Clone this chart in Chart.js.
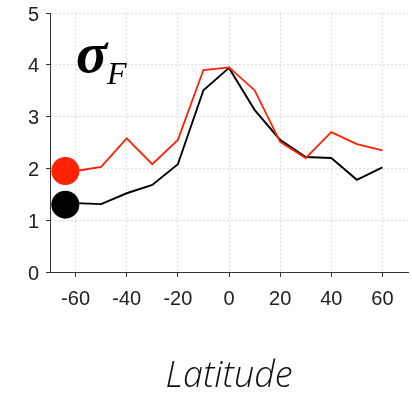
<!DOCTYPE html>
<html>
<head>
<meta charset="utf-8">
<script src="https://cdn.jsdelivr.net/npm/chart.js@4"></script>
<style>
  body { margin: 0; background: #fff; }
  #wrap { width: 412px; height: 396px; position: relative; }
</style>
</head>
<body>
<div id="wrap"><canvas id="myChart"></canvas></div>
<script>
// latitude of each sample
const lats = [-60, -50, -40, -30, -20, -10, 0, 10, 20, 30, 40, 50, 60];
const redVals = [1.95, 2.03, 2.58, 2.08, 2.55, 3.9, 3.95, 3.51, 2.51, 2.2, 2.7, 2.47, 2.35];
const blackVals = [1.33, 1.31, 1.52, 1.68, 2.08, 3.51, 3.94, 3.13, 2.55, 2.22, 2.2, 1.78, 2.02];
// big legend-like dots on the left
const markerLat = -64;
const redMarker = 1.95;
const blackMarker = 1.3;
const xTicks = [-60, -40, -20, 0, 20, 40, 60];
const yTicks = [0, 1, 2, 3, 4, 5];

const tickFont = { family: "'Liberation Sans', Arial, sans-serif", size: 20 };

// sigma_F label drawn in the plot
const sigmaLabel = {
    id: "sigmaLabel",
    afterDraw(chart) {
        const c = chart.ctx;
        c.save();
        c.fillStyle = "#000";
        c.textBaseline = "alphabetic";
        c.font = "italic bold 58px 'Liberation Serif', 'DejaVu Serif', serif";
        c.fillText("σ", 76, 72);
        c.font = "italic 32px 'Liberation Serif', 'DejaVu Serif', serif";
        c.fillText("F", 107, 84);
        c.restore();
    }
};

var ctx = document.getElementById("myChart").getContext("2d");
var myChart = new Chart(ctx, {
    type: "line",
    data: {
        datasets: [{
            type: "scatter",
            data: [{ x: markerLat, y: redMarker }],
            backgroundColor: "#ff2200",
            borderWidth: 0,
            pointRadius: 14,
            order: 0,
            clip: false,
        }, {
            type: "scatter",
            data: [{ x: markerLat, y: blackMarker }],
            backgroundColor: "#000",
            borderWidth: 0,
            pointRadius: 14,
            order: 0,
            clip: false,
        }, {
            data: lats.map((v, i) => ({ x: v, y: redVals[i] })),
            borderColor: "#ff2200",
            borderWidth: 1.8,
            pointRadius: 0,
            tension: 0,
            order: 1,
        }, {
            data: lats.map((v, i) => ({ x: v, y: blackVals[i] })),
            borderColor: "#000",
            borderWidth: 1.9,
            pointRadius: 0,
            tension: 0,
            order: 2,
        }],
    },
    options: {
        responsive: true,
        maintainAspectRatio: false,
        animation: false,
        layout: { autoPadding: false, padding: { top: 13, right: 4, left: 0, bottom: 0 } },
        plugins: { legend: { display: false }, tooltip: { enabled: false } },
        scales: {
            x: {
                type: "linear",
                min: -70,
                max: 70,
                afterBuildTicks: (s) => { s.ticks = xTicks.map(v => ({ value: v })); },
                afterFit: (s) => { s.height = 124; s.paddingLeft = 0; s.paddingRight = 0; },
                grid: { color: "rgba(0,0,0,0.13)", tickColor: "#333", tickLength: 5 },
                border: { color: "#333", width: 1, dash: [2, 2] },
                ticks: { font: tickFont, color: "#222", padding: 10, maxRotation: 0 },
                title: {
                    display: true,
                    text: "Latitude",
                    color: "#111",
                    font: { family: "'Open Sans', 'Liberation Sans', sans-serif", size: 36, style: "italic", weight: 300, lineHeight: 1 },
                    padding: { top: 0, bottom: 1 },
                },
            },
            y: {
                min: 0,
                max: 5,
                afterBuildTicks: (s) => { s.ticks = yTicks.map(v => ({ value: v })); },
                afterFit: (s) => { s.width = 50; s.paddingTop = 0; s.paddingBottom = 0; },
                grid: { color: "rgba(0,0,0,0.13)", tickColor: "#333", tickLength: 4 },
                border: { color: "#333", width: 1, dash: [2, 2] },
                ticks: { font: tickFont, color: "#222", padding: 7, labelOffset: 2 },
            },
        },
    },
    plugins: [sigmaLabel],
});
</script>
</body>
</html>
